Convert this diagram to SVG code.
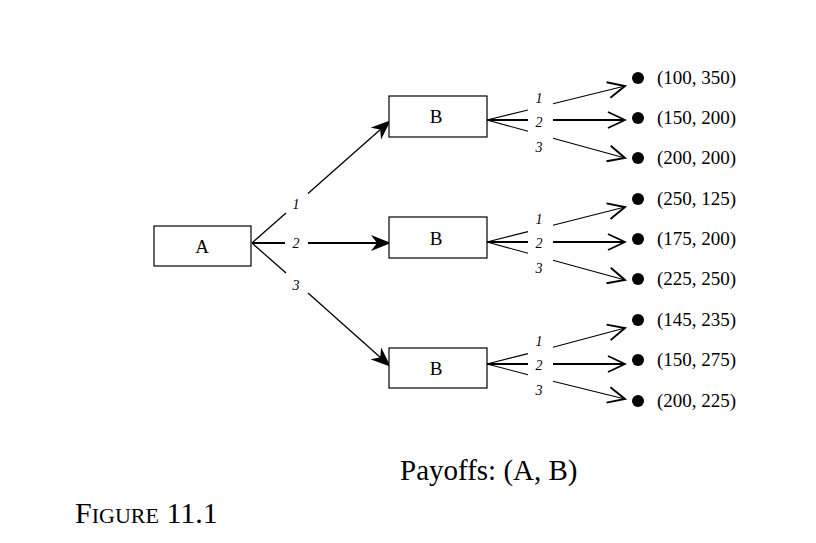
<svg xmlns="http://www.w3.org/2000/svg" width="816" height="543" viewBox="0 0 816 543">
<defs>
<style>
.node{fill:#fff;stroke:#000;stroke-width:1.2}
.nl{font-family:"Liberation Serif",serif;font-size:19px;text-anchor:middle}
.el{font-family:"Liberation Serif",serif;font-size:14px;font-style:italic;text-anchor:middle}
.pay{font-family:"Liberation Serif",serif;font-size:19px}
.a{stroke:#000;stroke-width:1.3;fill:none}
.a2{stroke:#000;stroke-width:2;fill:none}
.b{stroke:#000;stroke-width:1.1;fill:none}
.b2{stroke:#000;stroke-width:2;fill:none}
.fa{marker-end:url(#fill)}
.oa{marker-end:url(#open)}
</style>
<marker id="fill" viewBox="0 0 20 16" refX="19" refY="8" markerWidth="20" markerHeight="16" markerUnits="userSpaceOnUse" orient="auto">
<path d="M0,0 L20,8 L0,16 L6,8 z" fill="#000"/>
</marker>
<marker id="open" viewBox="0 0 20 18" refX="18" refY="9" markerWidth="20" markerHeight="18" markerUnits="userSpaceOnUse" orient="auto">
<path d="M1,1 L18,9 L1,17" fill="none" stroke="#000" stroke-width="1.9"/>
</marker>
</defs>
<rect width="816" height="543" fill="#fff"/>
<g id="connectors">
<line class="a" x1="252" y1="243" x2="286" y2="213"/>
<line class="a fa" x1="308" y1="193.5" x2="390" y2="121"/>
<line class="a2" x1="252" y1="243" x2="285" y2="243"/>
<line class="a2 fa" x1="308" y1="243" x2="390" y2="243"/>
<line class="a" x1="252" y1="243" x2="286" y2="273"/>
<line class="a fa" x1="308" y1="293" x2="390" y2="366"/>

<line class="b" x1="487" y1="120" x2="528" y2="110"/>
<line class="b oa" x1="553" y1="103.7" x2="625" y2="86"/>
<line class="b2" x1="487" y1="120" x2="528" y2="120"/>
<line class="b2 oa" x1="553" y1="120" x2="625" y2="120"/>
<line class="b" x1="487" y1="120" x2="528" y2="131.3"/>
<line class="b oa" x1="553" y1="138.2" x2="625" y2="158"/>

<line class="b" x1="487" y1="242" x2="528" y2="231.6"/>
<line class="b oa" x1="553" y1="225.3" x2="625" y2="207"/>
<line class="b2" x1="487" y1="242" x2="528" y2="242"/>
<line class="b2 oa" x1="553" y1="242" x2="625" y2="242"/>
<line class="b" x1="487" y1="242" x2="528" y2="253.3"/>
<line class="b oa" x1="553" y1="260.2" x2="625" y2="280"/>

<line class="b" x1="487" y1="364" x2="528" y2="353.6"/>
<line class="b oa" x1="553" y1="347.3" x2="625" y2="328"/>
<line class="b2" x1="487" y1="364" x2="528" y2="364"/>
<line class="b2 oa" x1="553" y1="364" x2="625" y2="364"/>
<line class="b" x1="487" y1="364" x2="528" y2="374.7"/>
<line class="b oa" x1="553" y1="381.2" x2="625" y2="399"/>
</g>
<g id="edge-labels">
<text class="el" x="296" y="209">1</text>
<text class="el" x="296" y="248">2</text>
<text class="el" x="296" y="290">3</text>
<text class="el" x="539" y="103">1</text>
<text class="el" x="539" y="127">2</text>
<text class="el" x="539" y="152">3</text>
<text class="el" x="539" y="224">1</text>
<text class="el" x="539" y="248">2</text>
<text class="el" x="539" y="273">3</text>
<text class="el" x="539" y="346">1</text>
<text class="el" x="539" y="370">2</text>
<text class="el" x="539" y="395">3</text>
</g>
<g id="A"><rect class="node" x="154" y="226" width="97" height="40"/><text class="nl" x="202" y="253">A</text></g>
<g id="B1"><rect class="node" x="389" y="96" width="98" height="41"/><text class="nl" x="436" y="123">B</text></g>
<g id="B2"><rect class="node" x="389" y="217" width="98" height="41"/><text class="nl" x="436" y="245">B</text></g>
<g id="B3"><rect class="node" x="389" y="348" width="98" height="40"/><text class="nl" x="436" y="375">B</text></g>
<g id="outcomes">
<circle cx="638" cy="78" r="6"/><text class="pay" x="657" y="84">(100, 350)</text>
<circle cx="638" cy="118" r="6"/><text class="pay" x="657" y="124">(150, 200)</text>
<circle cx="638" cy="158" r="6"/><text class="pay" x="657" y="164">(200, 200)</text>
<circle cx="638" cy="199" r="6"/><text class="pay" x="657" y="205">(250, 125)</text>
<circle cx="638" cy="239" r="6"/><text class="pay" x="657" y="245">(175, 200)</text>
<circle cx="638" cy="279" r="6"/><text class="pay" x="657" y="285">(225, 250)</text>
<circle cx="638" cy="320" r="6"/><text class="pay" x="657" y="326">(145, 235)</text>
<circle cx="638" cy="360" r="6"/><text class="pay" x="657" y="366">(150, 275)</text>
<circle cx="638" cy="401" r="6"/><text class="pay" x="657" y="407">(200, 225)</text>
</g>
<text x="400" y="480" font-family="Liberation Serif, serif" font-size="29">Payoffs: (A, B)</text>
<text x="75" y="523" font-family="Liberation Serif, serif" font-size="30">F<tspan font-size="22">IGURE</tspan> 11.1</text>
</svg>
